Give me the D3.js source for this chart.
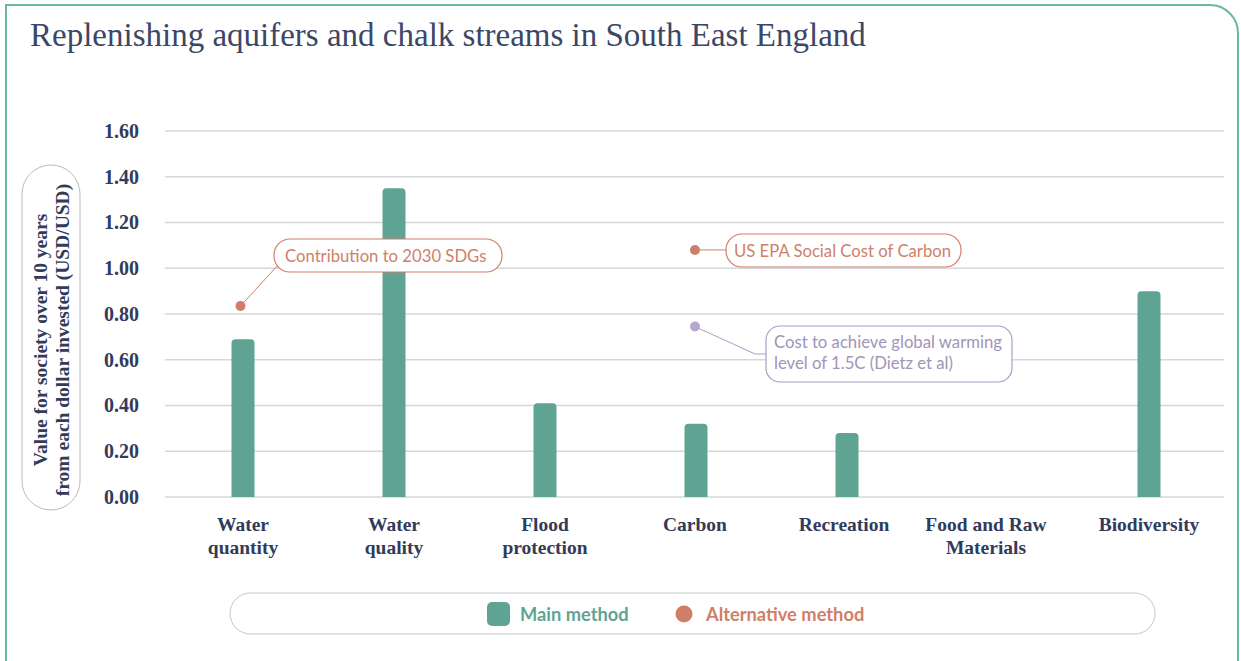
<!DOCTYPE html>
<html>
<head>
<meta charset="utf-8">
<script src="https://cdn.jsdelivr.net/npm/d3@7"></script>
<style>
  body { margin: 0; background: #fff; }
</style>
</head>
<body>
<div id="chart"></div>
<script>
// chart data
var categories = [["Water", "quantity"], ["Water", "quality"], ["Flood", "protection"], ["Carbon"],
  ["Recreation"], ["Food and Raw", "Materials"], ["Biodiversity"]];
var catKeys = categories.map(c => c.join(" "));
var mainValues = [0.69, 1.35, 0.41, 0.32, 0.28, 0, 0.90];
// alternative method points
var altCategory = ["Water quantity", "Carbon", "Carbon"];
var altValues = [0.835, 1.08, 0.745];
var altNotes = [["Contribution to 2030 SDGs"], ["US EPA Social Cost of Carbon"],
  ["Cost to achieve global warming", "level of 1.5C (Dietz et al)"]];
var yTicks = [0, 0.2, 0.4, 0.6, 0.8, 1.0, 1.2, 1.4, 1.6];

var width = 1241, height = 661;
var green = "#5fa493", orange = "#cf7f68", purple = "#a99ec3", navy = "#323b5a";

var svg = d3.select("#chart").append("svg")
  .attr("width", width)
  .attr("height", height);

// frame
svg.append("path")
  .attr("d", "M6,680 V5 H1210 A28,28 0 0 1 1238,33 V680")
  .attr("fill", "none")
  .attr("stroke", "#6ab9a6")
  .attr("stroke-width", 2);

svg.append("text")
  .attr("x", 30).attr("y", 46)
  .attr("font-family", "Liberation Serif, serif")
  .attr("font-size", 33)
  .attr("fill", "#3b4766")
  .text("Replenishing aquifers and chalk streams in South East England");

var x = d3.scaleBand().domain(catKeys).range([167.5, 1224.5]);
var y = d3.scaleLinear().domain([0, 1.6]).range([497, 131]);

// grid lines
svg.append("g").selectAll("line")
  .data(yTicks)
  .enter().append("line")
  .attr("x1", 165).attr("x2", 1224)
  .attr("y1", d => y(d)).attr("y2", d => y(d))
  .attr("stroke", "#d6d7dc")
  .attr("stroke-width", 1.5);

// y axis
var leftAxis = d3.axisLeft(y).tickValues(yTicks).tickFormat(d3.format(".2f")).tickSize(0).tickPadding(0);
var yAxis = svg.append("g")
  .attr("transform", "translate(139,0)")
  .call(leftAxis);
yAxis.select(".domain").remove();
yAxis.selectAll("text")
  .attr("font-family", "Liberation Serif, serif")
  .attr("font-weight", "bold")
  .attr("font-size", 20)
  .attr("fill", navy);

// y label in a pill
svg.append("rect")
  .attr("x", 22).attr("y", 165).attr("width", 58).attr("height", 345)
  .attr("rx", 29)
  .attr("fill", "none").attr("stroke", "#b9bac0").attr("stroke-width", 1);
var yLab = svg.append("text")
  .attr("transform", "translate(51,340) rotate(-90)")
  .attr("text-anchor", "middle")
  .attr("font-family", "Liberation Serif, serif")
  .attr("font-weight", "bold")
  .attr("font-size", 19.5)
  .attr("fill", navy);
yLab.append("tspan").attr("x", 0).attr("y", -4).text("Value for society over 10 years");
yLab.append("tspan").attr("x", 0).attr("y", 18).text("from each dollar invested (USD/USD)");

// x axis labels
var labelShift = [0, 0, 0, -1, -3, -12, 0];
var bottomAxis = d3.axisBottom(x).tickSize(0).tickFormat("");
var xAxis = svg.append("g").attr("transform", "translate(0,497)").call(bottomAxis);
xAxis.select(".domain").remove();
xAxis.selectAll(".tick").each(function(d, i) {
  var t = d3.select(this).append("text")
    .attr("text-anchor", "middle")
    .attr("font-family", "Liberation Serif, serif")
    .attr("font-weight", "bold")
    .attr("font-size", 19.5)
    .attr("fill", navy);
  categories[i].forEach(function(line, j) {
    t.append("tspan").attr("x", labelShift[i]).attr("y", 34 + j * 23).text(line);
  });
});

// bars with rounded tops
var bw = 23, r = 4;
svg.append("g").selectAll("path")
  .data(mainValues.map((v, i) => ({ key: catKeys[i], v: v })).filter(d => d.v > 0))
  .enter().append("path")
  .attr("d", function(d) {
    var x0 = x(d.key) + x.bandwidth() / 2 - bw / 2, y0 = y(d.v), yb = y(0);
    return "M" + x0 + "," + yb + " V" + (y0 + r) +
      " Q" + x0 + "," + y0 + " " + (x0 + r) + "," + y0 +
      " H" + (x0 + bw - r) +
      " Q" + (x0 + bw) + "," + y0 + " " + (x0 + bw) + "," + (y0 + r) +
      " V" + yb + " Z";
  })
  .attr("fill", green);

// annotations: pill box, leader line, dot
var notes = svg.append("g").attr("font-family", "Lato, sans-serif").attr("font-size", 16.7);

function cx(i, off) { return x(altCategory[i]) + x.bandwidth() / 2 + off; }

// 1: SDGs
var p1 = { x: 274, y: 239, w: 228, h: 33 };
notes.append("line")
  .attr("x1", cx(0, -2.5)).attr("y1", y(altValues[0]))
  .attr("x2", p1.x + 5).attr("y2", p1.y + 25)
  .attr("stroke", orange).attr("stroke-width", 1);
notes.append("rect").attr("x", p1.x).attr("y", p1.y).attr("width", p1.w).attr("height", p1.h)
  .attr("rx", 16).attr("fill", "#fff").attr("stroke", orange).attr("stroke-width", 1.2);
notes.append("text").attr("x", p1.x + 11).attr("y", p1.y + 22.5).attr("fill", orange).text(altNotes[0][0]);

// 2: EPA
var p2 = { x: 726, y: 234, w: 235, h: 33 };
notes.append("line")
  .attr("x1", cx(1, -1)).attr("y1", y(altValues[1]))
  .attr("x2", p2.x).attr("y2", y(altValues[1]))
  .attr("stroke", orange).attr("stroke-width", 1);
notes.append("rect").attr("x", p2.x).attr("y", p2.y).attr("width", p2.w).attr("height", p2.h)
  .attr("rx", 16).attr("fill", "#fff").attr("stroke", orange).attr("stroke-width", 1.2);
notes.append("text").attr("x", p2.x + 8).attr("y", p2.y + 23).attr("fill", orange).text(altNotes[1][0]);

// 3: Dietz
var p3 = { x: 766, y: 326, w: 246, h: 56 };
notes.append("polyline")
  .attr("points", [[cx(2, -1), y(altValues[2])], [755, 354], [p3.x, 354]].map(p => p.join(",")).join(" "))
  .attr("fill", "none").attr("stroke", purple).attr("stroke-width", 1);
notes.append("rect").attr("x", p3.x).attr("y", p3.y).attr("width", p3.w).attr("height", p3.h)
  .attr("rx", 14).attr("fill", "#fff").attr("stroke", purple).attr("stroke-width", 1.2);
var t3 = notes.append("text").attr("fill", "#9f95b8");
altNotes[2].forEach(function(line, j) {
  t3.append("tspan").attr("x", p3.x + 8).attr("y", p3.y + 22 + j * 21).text(line);
});

// dots
svg.append("g").selectAll("circle")
  .data(altValues)
  .enter().append("circle")
  .attr("cx", (d, i) => cx(i, i === 0 ? -2.5 : -1))
  .attr("cy", d => y(d))
  .attr("r", 5)
  .attr("fill", (d, i) => i === 2 ? "#b3a8cc" : orange);

// legend
var legend = svg.append("g");
legend.append("rect")
  .attr("x", 230).attr("y", 593).attr("width", 925).attr("height", 41)
  .attr("rx", 20.5)
  .attr("fill", "none").attr("stroke", "#c4c5ca").attr("stroke-width", 1);
legend.append("rect")
  .attr("x", 487).attr("y", 602).attr("width", 23).attr("height", 24)
  .attr("rx", 5).attr("fill", green);
legend.append("text")
  .attr("x", 520).attr("y", 621)
  .attr("font-family", "Lato, sans-serif").attr("font-weight", "bold").attr("font-size", 18.3)
  .attr("fill", green).text("Main method");
legend.append("circle")
  .attr("cx", 684).attr("cy", 614).attr("r", 8.5).attr("fill", orange);
legend.append("text")
  .attr("x", 706).attr("y", 621)
  .attr("font-family", "Lato, sans-serif").attr("font-weight", "bold").attr("font-size", 18.3)
  .attr("fill", orange).text("Alternative method");
</script>
</body>
</html>
